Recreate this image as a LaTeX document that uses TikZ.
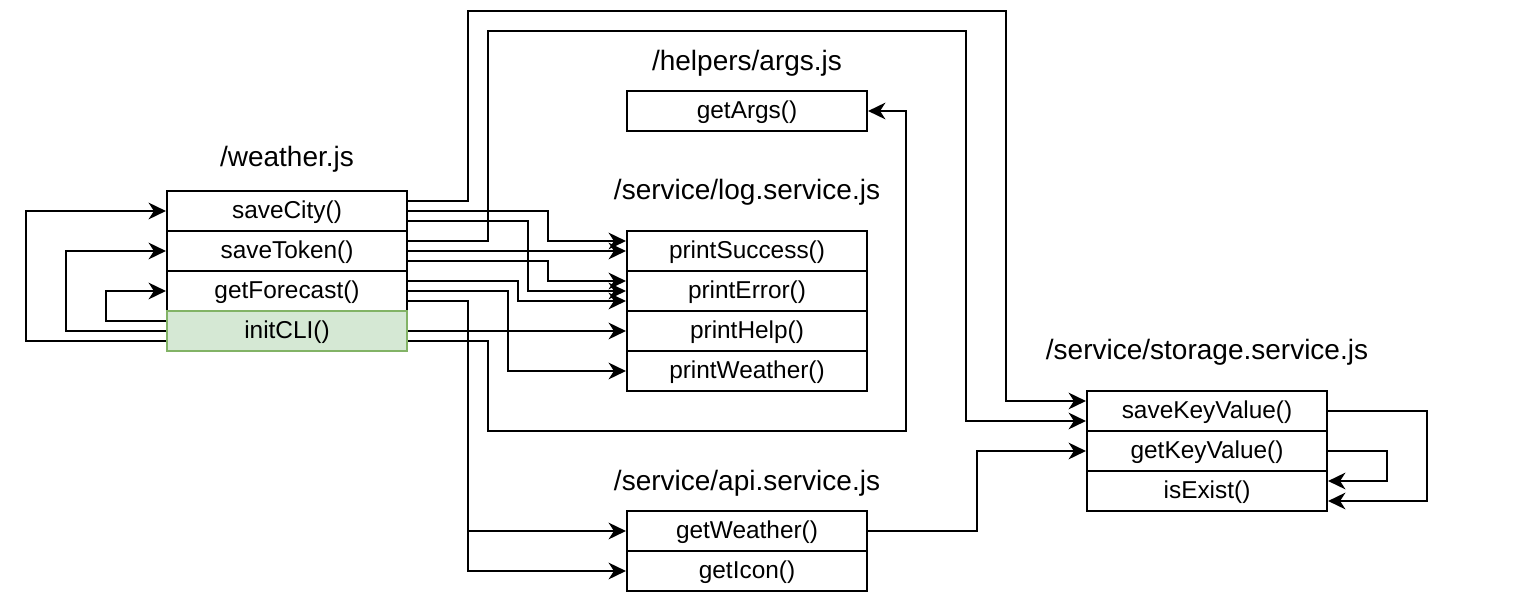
\documentclass[tikz,border=0pt]{standalone}
\usepackage{fontspec}
\setmainfont{Liberation Sans}
\usetikzlibrary{arrows.meta}
\definecolor{cliFill}{RGB}{213,232,212}
\definecolor{cliLine}{RGB}{130,179,102}
\tikzset{
  fn/.style={draw, minimum width=180pt, minimum height=30pt, inner sep=0pt, text height=15pt, text depth=3.8pt, font=\fontsize{18.3}{21}\selectfont},
  title/.style={font=\fontsize{21}{25}\selectfont},
  arr/.style={-{Stealth[length=13pt,width=12.5pt,inset=4pt]}},
}

\begin{document}
\begin{tikzpicture}[x=0.75pt,y=0.75pt,yscale=-1,xscale=1,line width=1.6pt]
\useasboundingbox (0,0) rectangle (1528,610);

% Text Node
\draw (287,159) node [title] {/weather.js};
% Text Node
\draw (747,63) node [title] {/helpers/args.js};
% Text Node
\draw (747,192) node [title] {/service/log.service.js};
% Text Node
\draw (747,483) node [title] {/service/api.service.js};
% Text Node
\draw (1207,352) node [title] {/service/storage.service.js};

%Shape: weather.js
\draw (287,211) node [fn] (saveCity) {saveCity()};
\draw (287,251) node [fn] (saveToken) {saveToken()};
\draw (287,291) node [fn] (getForecast) {getForecast()};
\draw (287,331) node [fn, fill=cliFill, draw=cliLine] (initCLI) {initCLI()};
%Shape: args.js
\draw (747,111) node [fn] (getArgs) {getArgs()};
%Shape: log.service.js
\draw (747,251) node [fn] (printSuccess) {printSuccess()};
\draw (747,291) node [fn] (printError) {printError()};
\draw (747,331) node [fn] (printHelp) {printHelp()};
\draw (747,371) node [fn] (printWeather) {printWeather()};
%Shape: api.service.js
\draw (747,531) node [fn] (getWeather) {getWeather()};
\draw (747,571) node [fn] (getIcon) {getIcon()};
%Shape: storage.service.js
\draw (1207,411) node [fn] (saveKeyValue) {saveKeyValue()};
\draw (1207,451) node [fn] (getKeyValue) {getKeyValue()};
\draw (1207,491) node [fn] (isExist) {isExist()};

%Connectors: initCLI (left side)
\draw [arr] ([yshift=-7.5pt]initCLI.west) -- ++(-60,0) |- (getForecast.west);
\draw [arr] (initCLI.west) -- ++(-100,0) |- (saveToken.west);
\draw [arr] ([yshift=7.5pt]initCLI.west) -- ++(-140,0) |- (saveCity.west);

%Connectors: saveCity
\draw [arr] ([yshift=-7.5pt]saveCity.east) -- ++(60,0) |- (1006,11) |- ([yshift=-7.5pt]saveKeyValue.west);
\draw [arr] (saveCity.east) -- ++(140,0) |- ([yshift=-7.5pt]printSuccess.west);
\draw [arr] ([yshift=7.5pt]saveCity.east) -- ++(120,0) |- (printError.west);

%Connectors: saveToken
\draw [arr] ([yshift=-7.5pt]saveToken.east) -- ++(80,0) |- (966,31) |- ([yshift=7.5pt]saveKeyValue.west);
\draw [arr] (saveToken.east) -- (printSuccess.west);
\draw [arr] ([yshift=7.5pt]saveToken.east) -- ++(140,0) |- ([yshift=-7.5pt]printError.west);

%Connectors: getForecast
\draw [arr] ([yshift=-7.5pt]getForecast.east) -- ++(110,0) |- ([yshift=7.5pt]printError.west);
\draw [arr] (getForecast.east) -- ++(100,0) |- (printWeather.west);
\draw [arr] ([yshift=7.5pt]getForecast.east) -- ++(60,0) |- (getWeather.west);
\draw [arr] ([yshift=7.5pt]getForecast.east) -- ++(60,0) |- (getIcon.west);

%Connectors: initCLI (right side)
\draw [arr] (initCLI.east) -- (printHelp.west);
\draw [arr] ([yshift=7.5pt]initCLI.east) -- ++(80,0) |- (906,431) |- (getArgs.east);

%Connectors: storage
\draw [arr] (getWeather.east) -- ++(109,0) |- (getKeyValue.west);
\draw [arr] (getKeyValue.east) -- ++(59,0) |- ([yshift=-7.5pt]isExist.east);
\draw [arr] (saveKeyValue.east) -- ++(99,0) |- ([yshift=7.5pt]isExist.east);

\end{tikzpicture}
\end{document}
